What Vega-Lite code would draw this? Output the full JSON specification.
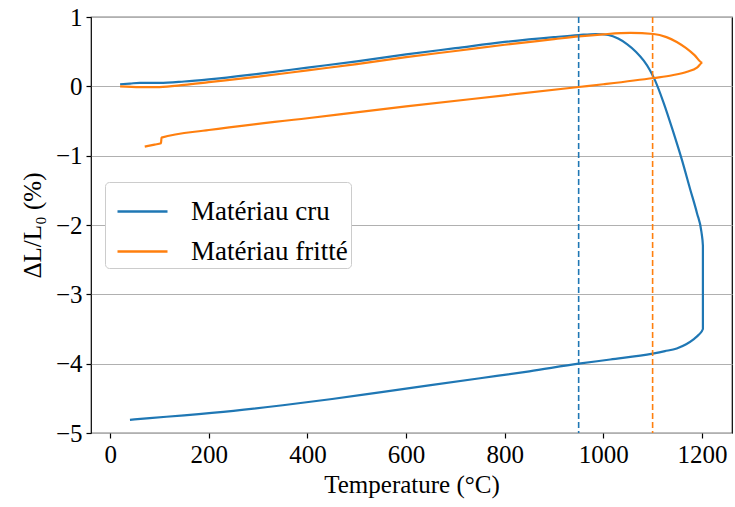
{
  "$schema": "https://vega.github.io/schema/vega-lite/v6.json",
  "width": 641,
  "height": 416,
  "autosize": {"type": "none"},
  "padding": {"left": 91, "top": 17, "right": 3, "bottom": 74},
  "config": {
    "view": {"stroke": "black", "strokeWidth": 1.2},
    "font": "Liberation Serif"
  },
  "datasets": {
    "curves": [
      {"s": "Matériau cru", "i": 1, "t": 20, "d": 0.03},
      {"s": "Matériau cru", "i": 2, "t": 40, "d": 0.04},
      {"s": "Matériau cru", "i": 3, "t": 60, "d": 0.05},
      {"s": "Matériau cru", "i": 4, "t": 100, "d": 0.05},
      {"s": "Matériau cru", "i": 5, "t": 150, "d": 0.07},
      {"s": "Matériau cru", "i": 6, "t": 200, "d": 0.1},
      {"s": "Matériau cru", "i": 7, "t": 300, "d": 0.18},
      {"s": "Matériau cru", "i": 8, "t": 400, "d": 0.27},
      {"s": "Matériau cru", "i": 9, "t": 500, "d": 0.36},
      {"s": "Matériau cru", "i": 10, "t": 600, "d": 0.46},
      {"s": "Matériau cru", "i": 11, "t": 700, "d": 0.55},
      {"s": "Matériau cru", "i": 12, "t": 800, "d": 0.64},
      {"s": "Matériau cru", "i": 13, "t": 900, "d": 0.71},
      {"s": "Matériau cru", "i": 14, "t": 950, "d": 0.74},
      {"s": "Matériau cru", "i": 15, "t": 985, "d": 0.755},
      {"s": "Matériau cru", "i": 16, "t": 1010, "d": 0.74},
      {"s": "Matériau cru", "i": 17, "t": 1030, "d": 0.69},
      {"s": "Matériau cru", "i": 18, "t": 1048, "d": 0.61},
      {"s": "Matériau cru", "i": 19, "t": 1066, "d": 0.5},
      {"s": "Matériau cru", "i": 20, "t": 1082, "d": 0.37},
      {"s": "Matériau cru", "i": 21, "t": 1094, "d": 0.24},
      {"s": "Matériau cru", "i": 22, "t": 1104, "d": 0.1},
      {"s": "Matériau cru", "i": 23, "t": 1122, "d": -0.23},
      {"s": "Matériau cru", "i": 24, "t": 1142, "d": -0.66},
      {"s": "Matériau cru", "i": 25, "t": 1159, "d": -1.05},
      {"s": "Matériau cru", "i": 26, "t": 1176, "d": -1.48},
      {"s": "Matériau cru", "i": 27, "t": 1190, "d": -1.83},
      {"s": "Matériau cru", "i": 28, "t": 1199, "d": -2.1},
      {"s": "Matériau cru", "i": 29, "t": 1202, "d": -2.3},
      {"s": "Matériau cru", "i": 30, "t": 1202, "d": -3.5},
      {"s": "Matériau cru", "i": 31, "t": 1194, "d": -3.58},
      {"s": "Matériau cru", "i": 32, "t": 1183, "d": -3.65},
      {"s": "Matériau cru", "i": 33, "t": 1168, "d": -3.72},
      {"s": "Matériau cru", "i": 34, "t": 1149, "d": -3.78},
      {"s": "Matériau cru", "i": 35, "t": 1125, "d": -3.82},
      {"s": "Matériau cru", "i": 36, "t": 1100, "d": -3.855},
      {"s": "Matériau cru", "i": 37, "t": 1014, "d": -3.94},
      {"s": "Matériau cru", "i": 38, "t": 950, "d": -4.0},
      {"s": "Matériau cru", "i": 39, "t": 850, "d": -4.11},
      {"s": "Matériau cru", "i": 40, "t": 750, "d": -4.21},
      {"s": "Matériau cru", "i": 41, "t": 650, "d": -4.31},
      {"s": "Matériau cru", "i": 42, "t": 550, "d": -4.41},
      {"s": "Matériau cru", "i": 43, "t": 450, "d": -4.51},
      {"s": "Matériau cru", "i": 44, "t": 350, "d": -4.6},
      {"s": "Matériau cru", "i": 45, "t": 250, "d": -4.68},
      {"s": "Matériau cru", "i": 46, "t": 150, "d": -4.745},
      {"s": "Matériau cru", "i": 47, "t": 80, "d": -4.785},
      {"s": "Matériau cru", "i": 48, "t": 40, "d": -4.81},
      {"s": "Matériau fritté", "i": 1, "t": 20, "d": 0.0},
      {"s": "Matériau fritté", "i": 2, "t": 60, "d": -0.01},
      {"s": "Matériau fritté", "i": 3, "t": 100, "d": -0.01},
      {"s": "Matériau fritté", "i": 4, "t": 150, "d": 0.02},
      {"s": "Matériau fritté", "i": 5, "t": 200, "d": 0.06},
      {"s": "Matériau fritté", "i": 6, "t": 300, "d": 0.14},
      {"s": "Matériau fritté", "i": 7, "t": 400, "d": 0.23},
      {"s": "Matériau fritté", "i": 8, "t": 500, "d": 0.32},
      {"s": "Matériau fritté", "i": 9, "t": 600, "d": 0.42},
      {"s": "Matériau fritté", "i": 10, "t": 700, "d": 0.51},
      {"s": "Matériau fritté", "i": 11, "t": 800, "d": 0.6},
      {"s": "Matériau fritté", "i": 12, "t": 900, "d": 0.68},
      {"s": "Matériau fritté", "i": 13, "t": 950, "d": 0.72},
      {"s": "Matériau fritté", "i": 14, "t": 1000, "d": 0.75},
      {"s": "Matériau fritté", "i": 15, "t": 1055, "d": 0.77},
      {"s": "Matériau fritté", "i": 16, "t": 1102, "d": 0.755},
      {"s": "Matériau fritté", "i": 17, "t": 1128, "d": 0.71},
      {"s": "Matériau fritté", "i": 18, "t": 1149, "d": 0.64},
      {"s": "Matériau fritté", "i": 19, "t": 1168, "d": 0.55},
      {"s": "Matériau fritté", "i": 20, "t": 1185, "d": 0.45},
      {"s": "Matériau fritté", "i": 21, "t": 1201, "d": 0.34},
      {"s": "Matériau fritté", "i": 22, "t": 1190, "d": 0.27},
      {"s": "Matériau fritté", "i": 23, "t": 1170, "d": 0.21},
      {"s": "Matériau fritté", "i": 24, "t": 1140, "d": 0.16},
      {"s": "Matériau fritté", "i": 25, "t": 1102, "d": 0.12},
      {"s": "Matériau fritté", "i": 26, "t": 1000, "d": 0.03},
      {"s": "Matériau fritté", "i": 27, "t": 950, "d": -0.01},
      {"s": "Matériau fritté", "i": 28, "t": 800, "d": -0.13},
      {"s": "Matériau fritté", "i": 29, "t": 600, "d": -0.29},
      {"s": "Matériau fritté", "i": 30, "t": 400, "d": -0.46},
      {"s": "Matériau fritté", "i": 31, "t": 200, "d": -0.63},
      {"s": "Matériau fritté", "i": 32, "t": 104, "d": -0.74},
      {"s": "Matériau fritté", "i": 33, "t": 103, "d": -0.82},
      {"s": "Matériau fritté", "i": 34, "t": 90, "d": -0.84},
      {"s": "Matériau fritté", "i": 35, "t": 70, "d": -0.87}
    ],
    "marks": [
      {"s": "Matériau cru", "t": 950},
      {"s": "Matériau fritté", "t": 1100}
    ]
  },
  "layer": [
    {
      "data": {"name": "curves"},
      "mark": {"type": "line", "strokeWidth": 2.2, "clip": true, "interpolate": "monotone"},
      "encoding": {
        "x": {
          "field": "t", "type": "quantitative",
          "scale": {"domain": [-39, 1261], "nice": false, "zero": false},
          "axis": {
            "title": "Temperature (°C)",
            "values": [0, 200, 400, 600, 800, 1000, 1200],
            "format": "d",
            "grid": false,
            "domain": false,
            "tickColor": "black", "tickSize": 5, "tickWidth": 1.2,
            "labelFont": "Liberation Serif", "labelFontSize": 25, "labelColor": "black",
            "labelPadding": 4,
            "titleFont": "Liberation Serif", "titleFontSize": 25, "titleFontWeight": "normal", "titleColor": "black",
            "titlePadding": 5
          }
        },
        "y": {
          "field": "d", "type": "quantitative",
          "scale": {"domain": [-5, 1], "nice": false, "zero": false},
          "axis": {
            "title": "ΔL/L₀ (%)",
            "values": [-5, -4, -3, -2, -1, 0, 1],
            "labelExpr": "replace(datum.label, '-', '−')",
            "grid": true, "gridColor": "#b0b0b0", "gridWidth": 1.2,
            "domain": false,
            "tickColor": "black", "tickSize": 5, "tickWidth": 1.2,
            "labelFont": "Liberation Serif", "labelFontSize": 25, "labelColor": "black",
            "labelPadding": 4,
            "titleFont": "Liberation Serif", "titleFontSize": 25, "titleFontWeight": "normal", "titleColor": "black",
            "titlePadding": 10
          }
        },
        "order": {"field": "i", "type": "quantitative"},
        "color": {
          "field": "s", "type": "nominal",
          "scale": {"domain": ["Matériau cru", "Matériau fritté"], "range": ["#1f77b4", "#ff7f0e"]},
          "legend": {
            "title": null,
            "orient": "none",
            "legendX": 14,
            "legendY": 165,
            "symbolType": "stroke",
            "symbolSize": 2500,
            "symbolStrokeWidth": 2.5,
            "symbolOffset": 8,
            "labelFont": "Liberation Serif",
            "labelFontSize": 27,
            "labelColor": "black",
            "labelOffset": 22,
            "rowPadding": -2,
            "padding": 3,
            "strokeColor": "#cccccc",
            "fillColor": "white",
            "cornerRadius": 4
          }
        }
      }
    },
    {
      "data": {"name": "marks"},
      "mark": {"type": "rule", "strokeWidth": 1.6, "strokeDash": [6, 3]},
      "encoding": {
        "x": {"field": "t", "type": "quantitative"},
        "color": {"field": "s", "type": "nominal", "legend": null}
      }
    }
  ]
}
